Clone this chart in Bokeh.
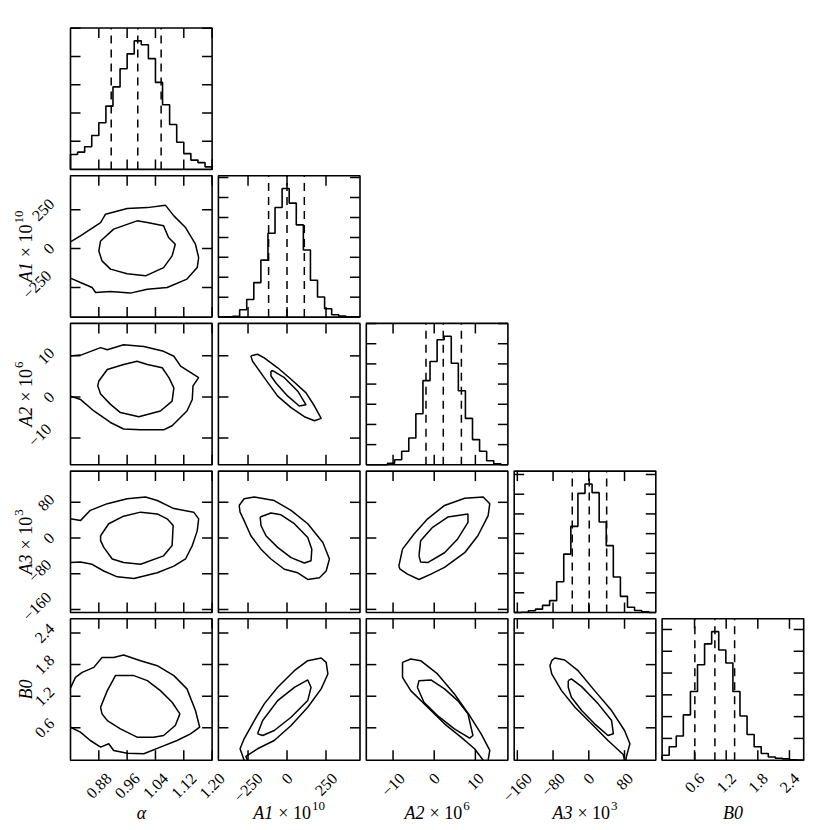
import math
import numpy as np
from bokeh.plotting import figure
from bokeh.models import Range1d
from bokeh.core.properties import value
from bokeh.embed import file_html
from bokeh.resources import INLINE

# ---------------- data ----------------
# axis titles: italic symbol, roman multiplier and its exponent
param_symbols = ["α", "A1", "A2", "A3", "B0"]
param_scales = ["", "× 10", "× 10", "× 10", ""]
param_exponents = ["", "10", "6", "3", ""]

alpha_range = (0.80, 1.20)
A1_range = (-440.0, 468.0)
A2_range = (-16.5, 17.9)
A3_range = (-167.0, 150.0)
B0_range = (-0.015, 2.67)

alpha_ticks = [0.88, 0.96, 1.04, 1.12, 1.20]
alpha_tick_labels = ["0.88", "0.96", "1.04", "1.12", "1.20"]
A1_ticks = [-250, 0, 250]
A1_tick_labels = ["−250", "0", "250"]
A2_ticks = [-10, 0, 10]
A2_tick_labels = ["−10", "0", "10"]
A3_ticks = [-160, -80, 0, 80]
A3_tick_labels = ["−160", "−80", "0", "80"]
B0_ticks = [0.6, 1.2, 1.8, 2.4]
B0_tick_labels = ["0.6", "1.2", "1.8", "2.4"]

count_ticks = [1000, 2000, 3000, 4000, 5000, 6000, 7000]

# histogram counts (20 bins over each parameter range)
hist_alpha = [530, 610, 800, 1200, 1650, 2240, 2920, 3560, 4090, 4550,
              4410, 3920, 3080, 2290, 1590, 960, 560, 330, 240, 90]
hist_A1 = [0, 10, 40, 370, 880, 1730, 2860, 4210, 5500, 6450,
           5720, 4630, 3370, 1850, 1010, 420, 120, 50, 20, 10]
hist_A2 = [0, 0, 0, 80, 250, 670, 1330, 2530, 4170, 5120,
           6200, 6370, 5030, 3670, 2300, 1250, 670, 200, 50, 0]
hist_A3 = [0, 10, 90, 170, 360, 600, 1560, 2960, 4370, 6040,
           6520, 6080, 4590, 3390, 1800, 820, 270, 100, 30, 0]
hist_B0 = [230, 620, 1110, 2080, 3150, 4380, 5340, 5900, 5060, 4460,
           3150, 2030, 1180, 620, 310, 150, 90, 60, 20, 10]

# 16 / 50 / 84 per cent quantiles
q_alpha = [0.915, 0.990, 1.056]
q_A1 = [-118, 0, 111]
q_A2 = [-2.0, 2.2, 6.6]
q_A3 = [-37, 1, 40]
q_B0 = [0.606, 0.986, 1.36]

# contour lines (x value, y value)
alpha_A1_outer = [(0.80, 43), (0.828, 82), (0.885, 167), (0.899, 221), (0.960, 257), (1.017, 263),
                  (1.068, 279), (1.092, 210), (1.125, 135), (1.153, 28), (1.162, -58), (1.158, -122),
                  (1.129, -196), (1.073, -250), (1.017, -261), (0.969, -286), (0.913, -276),
                  (0.871, -282), (0.861, -250), (0.828, -218), (0.80, -190)]
alpha_A1_inner = [(0.885, 49), (0.922, 125), (0.988, 178), (1.017, 167), (1.063, 146), (1.077, 71),
                  (1.096, 28), (1.087, -47), (1.063, -122), (1.012, -175), (0.960, -161),
                  (0.913, -132), (0.889, -79), (0.880, -15)]
alpha_A2_outer = [(0.80, 10.0), (0.833, 10.3), (0.885, 12.0), (0.904, 11.5), (0.950, 12.7),
                  (1.007, 12.3), (1.063, 11.1), (1.092, 9.9), (1.111, 7.5), (1.162, 4.7),
                  (1.146, 2.7), (1.144, -0.6), (1.129, -3.4), (1.087, -7.0), (1.063, -8.0),
                  (0.998, -8.0), (0.950, -7.8), (0.913, -6.2), (0.866, -3.4), (0.828, -0.6),
                  (0.80, 0.2)]
alpha_A2_inner = [(0.880, 3.9), (0.904, 6.7), (0.950, 7.9), (0.988, 8.7), (1.017, 7.9), (1.059, 7.1),
                  (1.078, 4.7), (1.092, 2.2), (1.087, -1.0), (1.054, -3.4), (0.993, -4.8),
                  (0.941, -3.8), (0.913, -1.8), (0.885, 0.7), (0.877, 2.7)]
alpha_A3_outer = [(0.80, 43), (0.828, 39), (0.856, 62), (0.904, 77), (0.960, 88), (1.012, 92),
                  (1.045, 84), (1.092, 66), (1.148, 58), (1.162, 43), (1.158, 16), (1.144, -17),
                  (1.125, -47), (1.092, -63), (1.045, -78), (0.979, -91), (0.932, -87),
                  (0.894, -74), (0.861, -59), (0.828, -54), (0.80, -55)]
alpha_A3_inner = [(0.885, 5), (0.908, 32), (0.950, 49), (0.998, 58), (1.045, 54), (1.073, 43),
                  (1.090, 28), (1.087, -17), (1.063, -40), (0.998, -59), (0.950, -55),
                  (0.918, -47), (0.894, -21), (0.885, -6)]
alpha_B0_outer = [(0.80, 1.358), (0.814, 1.558), (0.833, 1.653), (0.866, 1.748), (0.889, 1.937),
                  (0.922, 1.937), (0.950, 1.983), (0.998, 1.875), (1.045, 1.780), (1.092, 1.591),
                  (1.129, 1.339), (1.153, 0.928), (1.165, 0.611), (1.139, 0.486), (1.101, 0.359),
                  (1.054, 0.233), (1.007, 0.108), (0.960, 0.119), (0.922, 0.170), (0.908, 0.297),
                  (0.885, 0.233), (0.856, 0.359), (0.828, 0.517), (0.80, 0.611)]
alpha_B0_inner = [(0.885, 0.990), (0.904, 1.306), (0.927, 1.591), (0.979, 1.591), (1.017, 1.496),
                  (1.054, 1.306), (1.087, 1.085), (1.109, 0.865), (1.096, 0.644), (1.063, 0.454),
                  (1.035, 0.422), (0.988, 0.422), (0.941, 0.581), (0.904, 0.738), (0.889, 0.865)]
A1_A2_outer = [(-232, 10.0), (-189, 10.4), (-146, 9.5), (-60, 7.1), (26, 4.3), (122, 1.0),
               (176, -2.2), (219, -5.2), (176, -5.8), (111, -4.8), (26, -2.6), (-60, 0.2),
               (-146, 4.7), (-221, 8.7)]
A1_A2_inner = [(-103, 6.3), (-92, 6.4), (-17, 4.7), (69, 1.4), (122, -1.9), (79, -2.2), (5, 0.2),
               (-71, 3.4), (-103, 5.1)]
A1_A3_outer = [(-307, 73), (-275, 88), (-210, 92), (-82, 84), (26, 62), (133, 32), (230, -10),
               (272, -47), (251, -74), (208, -89), (133, -93), (69, -78), (-17, -70), (-103, -47),
               (-167, -25), (-232, 5), (-275, 39), (-301, 58)]
A1_A3_inner = [(-172, 47), (-103, 56), (-39, 52), (47, 32), (133, 1), (159, -25), (154, -51),
               (111, -56), (26, -44), (-60, -21), (-135, 5), (-167, 28)]
A2_A3_outer = [(-8.6, -63), (-7.7, -25), (-4.9, 9), (-1.6, 43), (2.5, 73), (7.4, 89), (11.9, 92),
               (13.5, 77), (13.1, 50), (10.6, 5), (7.4, -33), (2.5, -66), (-0.8, -81), (-3.7, -93),
               (-6.5, -81), (-8.3, -70)]
A2_A3_inner = [(-3.7, -40), (-3.3, -6), (-0.4, 24), (3.3, 47), (8.2, 54), (8.2, 35), (5.7, -2),
               (2.5, -33), (-1.6, -55), (-3.3, -54)]
A1_B0_outer = [(-275, -0.015), (-301, 0.202), (-275, 0.392), (-210, 0.738), (-146, 1.055),
               (-60, 1.369), (47, 1.685), (133, 1.875), (219, 1.926), (251, 1.842), (262, 1.623),
               (219, 1.339), (133, 0.990), (26, 0.644), (-82, 0.359), (-189, 0.202),
               (-264, 0.056), (-253, -0.015)]
A1_B0_inner = [(-189, 0.486), (-156, 0.738), (-60, 1.117), (47, 1.369), (133, 1.509), (154, 1.369),
               (133, 1.117), (26, 0.801), (-82, 0.549), (-156, 0.454)]
A2_B0_outer = [(11.9, -0.015), (9.8, 0.202), (6.5, 0.422), (2.5, 0.676), (-1.6, 0.990),
               (-5.7, 1.306), (-7.7, 1.558), (-7.7, 1.842), (-5.7, 1.907), (-3.3, 1.875),
               (0.8, 1.623), (4.9, 1.244), (8.6, 0.833), (11.4, 0.486), (13.5, 0.170),
               (13.1, -0.015)]
A2_B0_inner = [(-4.1, 1.369), (-3.7, 1.496), (-0.8, 1.509), (2.5, 1.339), (5.7, 1.117),
               (8.2, 0.865), (9.4, 0.454), (8.6, 0.403), (4.9, 0.581), (0.8, 0.833), (-2.5, 1.085)]
A3_B0_outer = [(80, -0.015), (77, 0.094), (43, 0.359), (6, 0.676), (-31, 0.990), (-61, 1.306),
               (-83, 1.623), (-87, 1.780), (-83, 1.875), (-76, 1.926), (-54, 1.888), (-24, 1.685),
               (13, 1.306), (51, 0.928), (80, 0.549), (92, 0.297), (84, 0.043), (83, -0.015)]
A3_B0_inner = [(-46, 1.496), (-39, 1.528), (-16, 1.382), (21, 1.055), (51, 0.738), (55, 0.486),
               (43, 0.454), (13, 0.676), (-16, 0.928), (-39, 1.180), (-46, 1.369)]

# ---------------- assembly ----------------
ranges = [alpha_range, A1_range, A2_range, A3_range, B0_range]
ticks = [alpha_ticks, A1_ticks, A2_ticks, A3_ticks, B0_ticks]
tick_labels = [alpha_tick_labels, A1_tick_labels, A2_tick_labels, A3_tick_labels, B0_tick_labels]
hists = [hist_alpha, hist_A1, hist_A2, hist_A3, hist_B0]
quantiles = [q_alpha, q_A1, q_A2, q_A3, q_B0]
contours = {
    (1, 0): [(alpha_A1_outer, False), (alpha_A1_inner, True)],
    (2, 0): [(alpha_A2_outer, False), (alpha_A2_inner, True)],
    (3, 0): [(alpha_A3_outer, False), (alpha_A3_inner, True)],
    (4, 0): [(alpha_B0_outer, False), (alpha_B0_inner, True)],
    (2, 1): [(A1_A2_outer, True), (A1_A2_inner, True)],
    (3, 1): [(A1_A3_outer, True), (A1_A3_inner, True)],
    (3, 2): [(A2_A3_outer, True), (A2_A3_inner, True)],
    (4, 1): [(A1_B0_outer, False), (A1_B0_inner, True)],
    (4, 2): [(A2_B0_outer, False), (A2_B0_inner, True)],
    (4, 3): [(A3_B0_outer, False), (A3_B0_inner, True)],
}

# ---------------- layout (screen pixels) ----------------
N = 5
W = H = 828
X0, Y0 = 70.0, 27.5
STEP_X, STEP_Y = 147.9, 147.7
FW, FH = 141.6, 141.4
TICK_LEN = 10.0
FONT = "Liberation Serif"
TICK_FS = 16
LABEL_FS = 18
EXP_FS = 13
TITLE_GAP = 5.0
EXP_RAISE = 7.0
CHAR_W = {"0": 8, "1": 8, "2": 8, "3": 8, "4": 8, "5": 8, "6": 8, "7": 8, "8": 8, "9": 8,
          ".": 4, "−": 9}
TITLE_W = {"A": 11, "B": 11, "α": 10, " ": 4.5, "×": 10.2}


def rot_box(label):
    w = sum(CHAR_W.get(ch, 8) for ch in label)
    return (w + 11) * 0.7071


def title_w(s):
    return sum(TITLE_W.get(ch, 9) for ch in s)


def exp_w(s):
    return len(s) * EXP_FS * 0.5


p = figure(width=W, height=H, x_range=Range1d(0, W), y_range=Range1d(H, 0),
           min_border=0, toolbar_location=None, output_backend="svg",
           x_axis_location=None, y_axis_location=None)
p.outline_line_color = None
p.xgrid.grid_line_color = None
p.ygrid.grid_line_color = None
p.background_fill_color = "white"
p.border_fill_color = "white"

title_style = dict(text_font=value(FONT), text_font_size=f"{LABEL_FS}px", text_color="black")
exp_style = dict(text_font=value(FONT), text_font_size=f"{EXP_FS}px", text_color="black")
tick_style = dict(text_font=value(FONT), text_font_size=f"{TICK_FS}px", text_color="black")

for r in range(N):
    for c in range(r + 1):
        xlo, xhi = ranges[c]
        if r == c:
            ylo, yhi = 0.0, 1.1 * max(hists[c])
            y_ticks = [t for t in count_ticks if t <= yhi]
        else:
            ylo, yhi = ranges[r]
            y_ticks = ticks[r]
        left = X0 + c * STEP_X
        top = Y0 + r * STEP_Y
        xy = p.subplot(x_source=Range1d(xlo, xhi), y_source=Range1d(ylo, yhi),
                       x_target=Range1d(left, left + FW), y_target=Range1d(top + FH, top))
        dx = (xhi - xlo) / FW   # data units per pixel
        dy = (yhi - ylo) / FH

        # content
        if r == c:
            edges = np.linspace(xlo, xhi, len(hists[c]) + 1)
            xs, ys = [edges[0]], [0]
            for i, cnt in enumerate(hists[c]):
                xs += [edges[i], edges[i + 1]]
                ys += [cnt, cnt]
            xs.append(edges[-1])
            ys.append(0)
            xy.line(xs, ys, line_color="black", line_width=1.6)
            qs = quantiles[c]
            xy.segment(x0=qs, y0=[ylo] * len(qs), x1=qs, y1=[yhi] * len(qs),
                       line_color="black", line_width=1.5, line_dash="8 6")
        else:
            for pts, closed in contours[(r, c)]:
                xs = [pt[0] for pt in pts]
                ys = [pt[1] for pt in pts]
                if closed:
                    xs.append(xs[0])
                    ys.append(ys[0])
                xy.line(xs, ys, line_color="black", line_width=1.5)

        # inward ticks on all four sides
        xt = [t for t in ticks[c] if xlo <= t <= xhi]
        xy.segment(x0=xt + xt, y0=[ylo] * len(xt) + [yhi] * len(xt),
                   x1=xt + xt, y1=[ylo + TICK_LEN * dy] * len(xt) + [yhi - TICK_LEN * dy] * len(xt),
                   line_color="black", line_width=1.5)
        yt = [t for t in y_ticks if ylo <= t <= yhi]
        xy.segment(x0=[xlo] * len(yt) + [xhi] * len(yt), y0=yt + yt,
                   x1=[xlo + TICK_LEN * dx] * len(yt) + [xhi - TICK_LEN * dx] * len(yt), y1=yt + yt,
                   line_color="black", line_width=1.5)

        # frame
        xy.quad(left=[xlo], right=[xhi], bottom=[ylo], top=[yhi],
                fill_color=None, line_color="black", line_width=1.6)

        # bottom row: x tick labels and axis title
        if r == N - 1:
            labs = tick_labels[c]
            lys = [ylo - (11.7 + rot_box(l) / 2) * dy for l in labs]
            xy.text(x=ticks[c], y=lys, text=labs, angle=math.pi / 4,
                    text_align="center", text_baseline="middle", **tick_style)
            sym, scl, ex = param_symbols[c], param_scales[c], param_exponents[c]
            gap = TITLE_GAP if scl else 0.0
            total = title_w(sym) + gap + title_w(scl) + (1 + exp_w(ex) if ex else 0)
            split = (xlo + xhi) / 2 + (title_w(sym) - total / 2) * dx
            ty = ylo - 53 * dy
            xy.text(x=[split], y=[ty], text=[sym], text_align="right",
                    text_baseline="alphabetic", text_font_style="italic", **title_style)
            if scl:
                xy.text(x=[split + gap * dx], y=[ty], text=[scl], text_align="left",
                        text_baseline="alphabetic", **title_style)
                xy.text(x=[split + (gap + title_w(scl) + 1) * dx], y=[ty + EXP_RAISE * dy],
                        text=[ex], text_align="left", text_baseline="alphabetic", **exp_style)
        # left column: y tick labels and axis title
        if c == 0 and r > 0:
            labs = tick_labels[r]
            neg = [1 if l.startswith("−") else 0 for l in labs]
            lxs = [xlo - (15 + rot_box(l) / 2 + 3 * n) * dx for l, n in zip(labs, neg)]
            lys = [t + 3 * n * dy for t, n in zip(ticks[r], neg)]
            xy.text(x=lxs, y=lys, text=labs, angle=math.pi / 4,
                    text_align="center", text_baseline="middle", **tick_style)
            sym, scl, ex = param_symbols[r], param_scales[r], param_exponents[r]
            gap = TITLE_GAP if scl else 0.0
            total = title_w(sym) + gap + title_w(scl) + (1 + exp_w(ex) if ex else 0)
            split = (ylo + yhi) / 2 + (title_w(sym) - total / 2) * dy
            tx = xlo - 45 * dx
            xy.text(x=[tx], y=[split], text=[sym], angle=math.pi / 2, text_align="right",
                    text_baseline="alphabetic", text_font_style="italic", **title_style)
            if scl:
                xy.text(x=[tx], y=[split + gap * dy], text=[scl], angle=math.pi / 2,
                        text_align="left", text_baseline="alphabetic", **title_style)
                xy.text(x=[tx - EXP_RAISE * dx], y=[split + (gap + title_w(scl) + 1) * dy],
                        text=[ex], angle=math.pi / 2, text_align="left",
                        text_baseline="alphabetic", **exp_style)

open("out.html", "w").write(file_html(p, INLINE))
